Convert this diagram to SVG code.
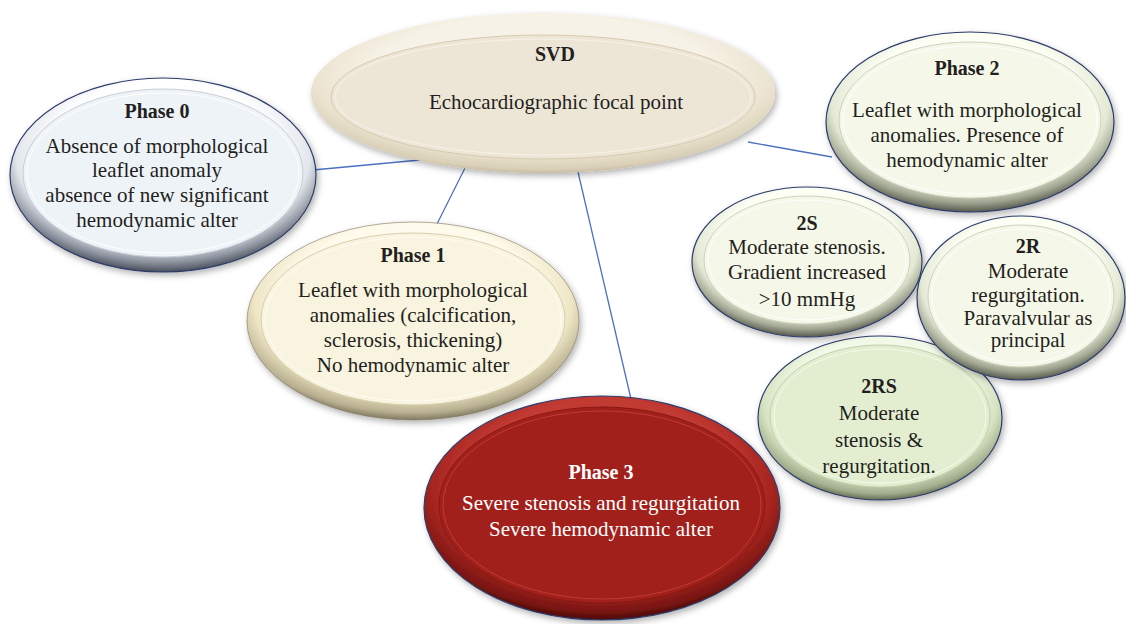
<svg xmlns="http://www.w3.org/2000/svg" width="1126" height="624" viewBox="0 0 1126 624">
<defs>
<filter id="shadow" x="-10%" y="-10%" width="125%" height="130%">
<feDropShadow dx="2" dy="3" stdDeviation="3" flood-color="#000" flood-opacity="0.3"/>
</filter>
<radialGradient id="rimSvd" cx="0.5" cy="0.42" r="0.6" fx="0.5" fy="0.3">
<stop offset="0.6" stop-color="#f7f2e7"/><stop offset="0.82" stop-color="#ece4d1"/><stop offset="0.94" stop-color="#d9cfb6"/><stop offset="1" stop-color="#b9ae94"/>
</radialGradient>
<radialGradient id="rimBlue" cx="0.5" cy="0.42" r="0.6" fx="0.5" fy="0.3">
<stop offset="0.6" stop-color="#ffffff"/><stop offset="0.8" stop-color="#e2e6ec"/><stop offset="0.9" stop-color="#8f95a0"/><stop offset="1" stop-color="#2f3542"/>
</radialGradient>
<radialGradient id="rimCream" cx="0.5" cy="0.42" r="0.6" fx="0.5" fy="0.3">
<stop offset="0.6" stop-color="#fffbec"/><stop offset="0.8" stop-color="#eee5c4"/><stop offset="0.92" stop-color="#b9b091"/><stop offset="1" stop-color="#645e48"/>
</radialGradient>
<radialGradient id="rimPale" cx="0.5" cy="0.42" r="0.6" fx="0.5" fy="0.3">
<stop offset="0.6" stop-color="#fdfff5"/><stop offset="0.8" stop-color="#e4e9d5"/><stop offset="0.9" stop-color="#a0a591"/><stop offset="1" stop-color="#393d34"/>
</radialGradient>
<radialGradient id="rimGreen" cx="0.5" cy="0.42" r="0.6" fx="0.5" fy="0.3">
<stop offset="0.6" stop-color="#f3f9e8"/><stop offset="0.8" stop-color="#d6e3c1"/><stop offset="0.92" stop-color="#9fab8a"/><stop offset="1" stop-color="#444c38"/>
</radialGradient>
<radialGradient id="rimRed" cx="0.5" cy="0.42" r="0.6" fx="0.5" fy="0.3">
<stop offset="0.6" stop-color="#c23a33"/><stop offset="0.8" stop-color="#a6251f"/><stop offset="0.92" stop-color="#7a1512"/><stop offset="1" stop-color="#2e0605"/>
</radialGradient>
</defs>
<style>
.rim{filter:url(#shadow)}
.edge{stroke:#2e3d6b;stroke-width:1.2}
.line{fill:none;stroke-width:1}
.conn line{stroke:#4a72c0;stroke-width:1.3}
text{font-family:"Liberation Serif","Times New Roman",serif;font-size:21px;fill:#231f20;text-anchor:middle}
text.t{font-weight:bold;font-size:20px}
.white text{fill:#ffffff}
</style>
<rect width="1126" height="624" fill="#ffffff"/>
<g id="connectors" class="conn">
<line x1="313" y1="170" x2="420" y2="160"/>
<line x1="465" y1="168" x2="437" y2="224"/>
<line x1="578" y1="172" x2="631" y2="399"/>
<line x1="748" y1="142" x2="832" y2="157"/>
</g>
<g id="svd">
<ellipse class="rim" cx="543" cy="93" rx="232" ry="80" fill="url(#rimSvd)"/>
<ellipse cx="543" cy="97" rx="212" ry="62" fill="#ede6d7" stroke="#d6cbb0" stroke-width="1"/>
<ellipse class="line" cx="543" cy="97" rx="208" ry="58" stroke="#f8f3e8"/>
<text class="t" x="555" y="61">SVD</text>
<text x="556" y="109">Echocardiographic focal point</text>
</g>
<g id="phase0">
<ellipse class="rim edge" cx="163" cy="175" rx="153" ry="97" fill="url(#rimBlue)"/>
<ellipse cx="163" cy="173" rx="140" ry="84" fill="#eef3f8" stroke="#c8ced8" stroke-width="1"/>
<ellipse class="line" cx="163" cy="173" rx="136" ry="80" stroke="#ffffff"/>
<text class="t" x="157" y="118">Phase 0</text>
<text x="157" y="153">Absence of morphological</text>
<text x="157" y="177">leaflet anomaly</text>
<text x="157" y="202">absence of new significant</text>
<text x="157" y="227">hemodynamic alter</text>
</g>
<g id="phase3" class="white">
<ellipse class="rim edge" cx="602" cy="508" rx="178" ry="112" fill="url(#rimRed)"/>
<ellipse cx="602" cy="505" rx="163" ry="98" fill="#a2201b" stroke="#8a1814" stroke-width="1"/>
<ellipse class="line" cx="602" cy="505" rx="159" ry="94" stroke="#bd3c35"/>
<text class="t" x="601" y="479">Phase 3</text>
<text x="601" y="510">Severe stenosis and regurgitation</text>
<text x="601" y="536">Severe hemodynamic alter</text>
</g>
<g id="phase1">
<ellipse class="rim" cx="413" cy="321" rx="166" ry="99" fill="url(#rimCream)" stroke="#7d765e" stroke-width="0.6"/>
<ellipse cx="413" cy="319" rx="152" ry="86" fill="#f9f4df" stroke="#d8cfae" stroke-width="1"/>
<ellipse class="line" cx="413" cy="319" rx="148" ry="82" stroke="#fffdf2"/>
<text class="t" x="413" y="262">Phase 1</text>
<text x="413" y="297">Leaflet with morphological</text>
<text x="413" y="322">anomalies (calcification,</text>
<text x="413" y="347">sclerosis, thickening)</text>
<text x="413" y="372">No hemodynamic alter</text>
</g>
<g id="phase2">
<ellipse class="rim edge" cx="970" cy="122" rx="144" ry="90" fill="url(#rimPale)"/>
<ellipse cx="970" cy="120" rx="131" ry="78" fill="#f5f7e8" stroke="#cdd2bd" stroke-width="1"/>
<ellipse class="line" cx="970" cy="120" rx="127" ry="74" stroke="#ffffff"/>
<text class="t" x="967" y="75">Phase 2</text>
<text x="967" y="117">Leaflet with morphological</text>
<text x="967" y="142">anomalies. Presence of</text>
<text x="967" y="167">hemodynamic alter</text>
</g>
<g id="n2rs">
<ellipse class="rim edge" cx="880" cy="418" rx="122" ry="82" fill="url(#rimGreen)"/>
<ellipse cx="880" cy="416" rx="110" ry="71" fill="#e3eed1" stroke="#c2cfad" stroke-width="1"/>
<ellipse class="line" cx="880" cy="416" rx="106" ry="67" stroke="#f4f9ea"/>
<text class="t" x="879" y="393">2RS</text>
<text x="879" y="420">Moderate</text>
<text x="879" y="447">stenosis &amp;</text>
<text x="879" y="473">regurgitation.</text>
</g>
<g id="n2s">
<ellipse class="rim edge" cx="807" cy="262" rx="115" ry="75" fill="url(#rimPale)"/>
<ellipse cx="807" cy="260" rx="103" ry="64" fill="#f5f7e8" stroke="#cdd2bd" stroke-width="1"/>
<ellipse class="line" cx="807" cy="260" rx="99" ry="60" stroke="#ffffff"/>
<text class="t" x="807" y="230">2S</text>
<text x="807" y="254">Moderate stenosis.</text>
<text x="807" y="279">Gradient increased</text>
<text x="807" y="306">&gt;10 mmHg</text>
</g>
<g id="n2r">
<ellipse class="rim edge" cx="1021" cy="298" rx="104" ry="82" fill="url(#rimPale)"/>
<ellipse cx="1021" cy="296" rx="93" ry="71" fill="#f5f7e8" stroke="#cdd2bd" stroke-width="1"/>
<ellipse class="line" cx="1021" cy="296" rx="89" ry="67" stroke="#ffffff"/>
<text class="t" x="1028" y="253">2R</text>
<text x="1028" y="278">Moderate</text>
<text x="1028" y="302">regurgitation.</text>
<text x="1028" y="325">Paravalvular as</text>
<text x="1028" y="347">principal</text>
</g>
</svg>
